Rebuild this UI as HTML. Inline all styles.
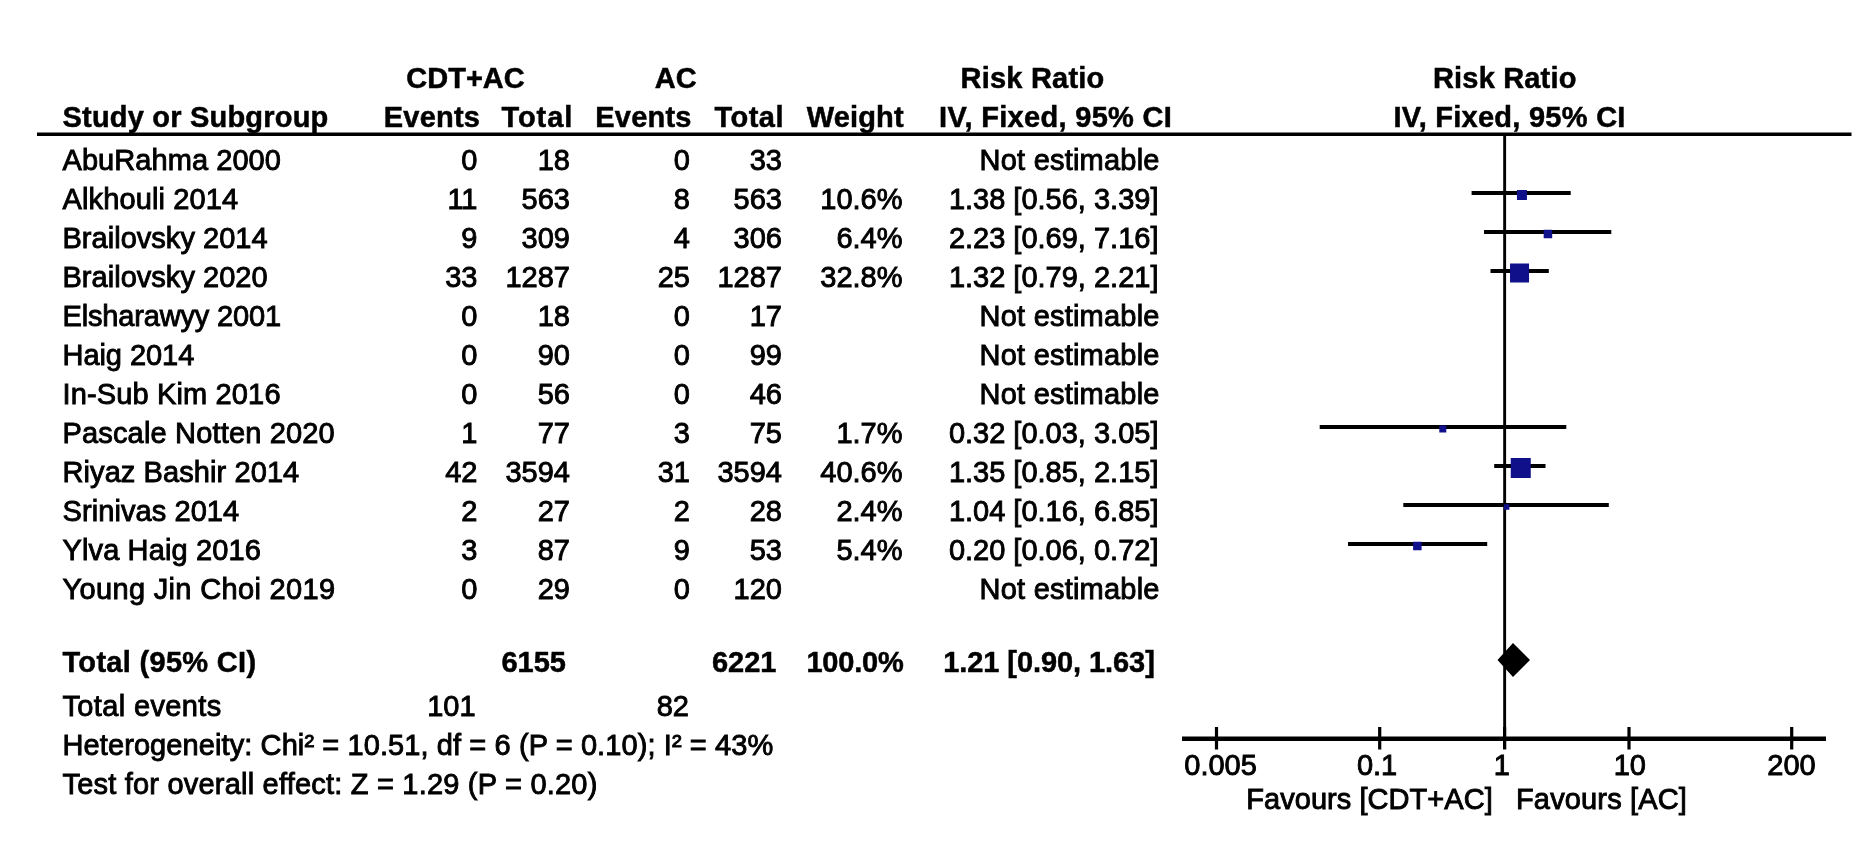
<!DOCTYPE html><html><head><meta charset="utf-8"><style>html,body{margin:0;padding:0;background:#fff;width:1870px;height:860px;overflow:hidden}svg{display:block;filter:blur(0.35px)}text{font-family:"Liberation Sans",sans-serif;font-size:29px;fill:#000;stroke:#000;stroke-width:0.9px}.b{font-weight:bold;stroke-width:0.5px}</style></head><body>
<svg width="1870" height="860" viewBox="0 0 1870 860">
<text id="t0" class="b" text-anchor="middle" textLength="118.42" lengthAdjust="spacing" x="465.50" y="88">CDT+AC</text>
<text id="t1" class="b" text-anchor="middle" x="675.70" y="88">AC</text>
<text id="t2" class="b" text-anchor="middle" textLength="143.63" lengthAdjust="spacing" x="1032.40" y="88">Risk Ratio</text>
<text id="t3" class="b" text-anchor="middle" textLength="143.43" lengthAdjust="spacing" x="1504.70" y="88">Risk Ratio</text>
<text id="t4" class="b" textLength="265.79" lengthAdjust="spacing" x="62.50" y="127">Study or Subgroup</text>
<text id="t5" class="b" text-anchor="end" textLength="96.31" lengthAdjust="spacing" x="480.00" y="127">Events</text>
<text id="t6" class="b" text-anchor="end" textLength="70.92" lengthAdjust="spacing" x="572.30" y="127">Total</text>
<text id="t7" class="b" text-anchor="end" textLength="96.31" lengthAdjust="spacing" x="691.50" y="127">Events</text>
<text id="t8" class="b" text-anchor="end" textLength="69.12" lengthAdjust="spacing" x="783.50" y="127">Total</text>
<text id="t9" class="b" text-anchor="end" textLength="96.73" lengthAdjust="spacing" x="903.60" y="127">Weight</text>
<text id="t10" class="b" text-anchor="middle" textLength="232.81" lengthAdjust="spacing" x="1055.50" y="127">IV, Fixed, 95% CI</text>
<text id="t11" class="b" text-anchor="middle" textLength="232.01" lengthAdjust="spacing" x="1509.40" y="127">IV, Fixed, 95% CI</text>
<text id="t12" textLength="218.46" lengthAdjust="spacing" x="62.50" y="170">AbuRahma 2000</text>
<text id="t13" text-anchor="end" x="477.50" y="170">0</text>
<text id="t14" text-anchor="end" x="570.00" y="170">18</text>
<text id="t15" text-anchor="end" x="690.00" y="170">0</text>
<text id="t16" text-anchor="end" x="782.00" y="170">33</text>
<text id="t17" text-anchor="end" textLength="179.91" lengthAdjust="spacing" x="1159.50" y="170">Not estimable</text>
<text id="t18" textLength="175.74" lengthAdjust="spacing" x="62.50" y="209">Alkhouli 2014</text>
<text id="t19" text-anchor="end" x="477.50" y="209">11</text>
<text id="t20" text-anchor="end" x="570.00" y="209">563</text>
<text id="t21" text-anchor="end" x="690.00" y="209">8</text>
<text id="t22" text-anchor="end" x="782.00" y="209">563</text>
<text id="t23" text-anchor="end" x="902.50" y="209">10.6%</text>
<text id="t24" text-anchor="end" x="1158.50" y="209">1.38 [0.56, 3.39]</text>
<text id="t25" textLength="205.12" lengthAdjust="spacing" x="62.50" y="248">Brailovsky 2014</text>
<text id="t26" text-anchor="end" x="477.50" y="248">9</text>
<text id="t27" text-anchor="end" x="570.00" y="248">309</text>
<text id="t28" text-anchor="end" x="690.00" y="248">4</text>
<text id="t29" text-anchor="end" x="782.00" y="248">306</text>
<text id="t30" text-anchor="end" x="902.50" y="248">6.4%</text>
<text id="t31" text-anchor="end" x="1158.50" y="248">2.23 [0.69, 7.16]</text>
<text id="t32" textLength="205.12" lengthAdjust="spacing" x="62.50" y="287">Brailovsky 2020</text>
<text id="t33" text-anchor="end" x="477.50" y="287">33</text>
<text id="t34" text-anchor="end" x="570.00" y="287">1287</text>
<text id="t35" text-anchor="end" x="690.00" y="287">25</text>
<text id="t36" text-anchor="end" x="782.00" y="287">1287</text>
<text id="t37" text-anchor="end" x="902.50" y="287">32.8%</text>
<text id="t38" text-anchor="end" x="1158.50" y="287">1.32 [0.79, 2.21]</text>
<text id="t39" textLength="218.64" lengthAdjust="spacing" x="62.50" y="326">Elsharawyy 2001</text>
<text id="t40" text-anchor="end" x="477.50" y="326">0</text>
<text id="t41" text-anchor="end" x="570.00" y="326">18</text>
<text id="t42" text-anchor="end" x="690.00" y="326">0</text>
<text id="t43" text-anchor="end" x="782.00" y="326">17</text>
<text id="t44" text-anchor="end" textLength="179.91" lengthAdjust="spacing" x="1159.50" y="326">Not estimable</text>
<text id="t45" textLength="131.82" lengthAdjust="spacing" x="62.50" y="365">Haig 2014</text>
<text id="t46" text-anchor="end" x="477.50" y="365">0</text>
<text id="t47" text-anchor="end" x="570.00" y="365">90</text>
<text id="t48" text-anchor="end" x="690.00" y="365">0</text>
<text id="t49" text-anchor="end" x="782.00" y="365">99</text>
<text id="t50" text-anchor="end" textLength="179.91" lengthAdjust="spacing" x="1159.50" y="365">Not estimable</text>
<text id="t51" textLength="218.02" lengthAdjust="spacing" x="62.50" y="404">In-Sub Kim 2016</text>
<text id="t52" text-anchor="end" x="477.50" y="404">0</text>
<text id="t53" text-anchor="end" x="570.00" y="404">56</text>
<text id="t54" text-anchor="end" x="690.00" y="404">0</text>
<text id="t55" text-anchor="end" x="782.00" y="404">46</text>
<text id="t56" text-anchor="end" textLength="179.91" lengthAdjust="spacing" x="1159.50" y="404">Not estimable</text>
<text id="t57" textLength="272.25" lengthAdjust="spacing" x="62.50" y="443">Pascale Notten 2020</text>
<text id="t58" text-anchor="end" x="477.50" y="443">1</text>
<text id="t59" text-anchor="end" x="570.00" y="443">77</text>
<text id="t60" text-anchor="end" x="690.00" y="443">3</text>
<text id="t61" text-anchor="end" x="782.00" y="443">75</text>
<text id="t62" text-anchor="end" x="902.50" y="443">1.7%</text>
<text id="t63" text-anchor="end" x="1158.50" y="443">0.32 [0.03, 3.05]</text>
<text id="t64" textLength="236.74" lengthAdjust="spacing" x="62.50" y="482">Riyaz Bashir 2014</text>
<text id="t65" text-anchor="end" x="477.50" y="482">42</text>
<text id="t66" text-anchor="end" x="570.00" y="482">3594</text>
<text id="t67" text-anchor="end" x="690.00" y="482">31</text>
<text id="t68" text-anchor="end" x="782.00" y="482">3594</text>
<text id="t69" text-anchor="end" x="902.50" y="482">40.6%</text>
<text id="t70" text-anchor="end" x="1158.50" y="482">1.35 [0.85, 2.15]</text>
<text id="t71" textLength="176.72" lengthAdjust="spacing" x="62.50" y="521">Srinivas 2014</text>
<text id="t72" text-anchor="end" x="477.50" y="521">2</text>
<text id="t73" text-anchor="end" x="570.00" y="521">27</text>
<text id="t74" text-anchor="end" x="690.00" y="521">2</text>
<text id="t75" text-anchor="end" x="782.00" y="521">28</text>
<text id="t76" text-anchor="end" x="902.50" y="521">2.4%</text>
<text id="t77" text-anchor="end" x="1158.50" y="521">1.04 [0.16, 6.85]</text>
<text id="t78" textLength="198.29" lengthAdjust="spacing" x="62.50" y="560">Ylva Haig 2016</text>
<text id="t79" text-anchor="end" x="477.50" y="560">3</text>
<text id="t80" text-anchor="end" x="570.00" y="560">87</text>
<text id="t81" text-anchor="end" x="690.00" y="560">9</text>
<text id="t82" text-anchor="end" x="782.00" y="560">53</text>
<text id="t83" text-anchor="end" x="902.50" y="560">5.4%</text>
<text id="t84" text-anchor="end" x="1158.50" y="560">0.20 [0.06, 0.72]</text>
<text id="t85" textLength="272.59" lengthAdjust="spacing" x="62.50" y="599">Young Jin Choi 2019</text>
<text id="t86" text-anchor="end" x="477.50" y="599">0</text>
<text id="t87" text-anchor="end" x="570.00" y="599">29</text>
<text id="t88" text-anchor="end" x="690.00" y="599">0</text>
<text id="t89" text-anchor="end" x="782.00" y="599">120</text>
<text id="t90" text-anchor="end" textLength="179.91" lengthAdjust="spacing" x="1159.50" y="599">Not estimable</text>
<text id="t91" class="b" textLength="193.59" lengthAdjust="spacing" x="62.50" y="672">Total (95% CI)</text>
<text id="t92" class="b" text-anchor="end" x="566.00" y="672">6155</text>
<text id="t93" class="b" text-anchor="end" x="776.40" y="672">6221</text>
<text id="t94" class="b" text-anchor="end" textLength="97.36" lengthAdjust="spacing" x="903.80" y="672">100.0%</text>
<text id="t95" class="b" text-anchor="end" textLength="211.63" lengthAdjust="spacing" x="1154.80" y="672">1.21 [0.90, 1.63]</text>
<text id="t96" textLength="158.77" lengthAdjust="spacing" x="62.50" y="716">Total events</text>
<text id="t97" text-anchor="end" x="475.60" y="716">101</text>
<text id="t98" text-anchor="end" x="689.00" y="716">82</text>
<text id="t99" textLength="710.75" lengthAdjust="spacing" x="62.50" y="755">Heterogeneity: Chi² = 10.51, df = 6 (P = 0.10); I² = 43%</text>
<text id="t100" textLength="534.85" lengthAdjust="spacing" x="62.50" y="794">Test for overall effect: Z = 1.29 (P = 0.20)</text>
<text id="t101" text-anchor="middle" textLength="72.58" lengthAdjust="spacing" x="1220.56" y="774.5">0.005</text>
<text id="t102" text-anchor="middle" x="1377.10" y="774.5">0.1</text>
<text id="t103" text-anchor="middle" x="1501.90" y="774.5">1</text>
<text id="t104" text-anchor="middle" x="1629.80" y="774.5">10</text>
<text id="t105" text-anchor="middle" x="1791.54" y="774.5">200</text>
<text id="t106" textLength="246.55" lengthAdjust="spacing" x="1246.20" y="809">Favours [CDT+AC]</text>
<text id="t107" textLength="170.82" lengthAdjust="spacing" x="1516.00" y="809">Favours [AC]</text>
<rect x="37" y="132.5" width="1814.5" height="3.5" fill="#000"/>
<rect x="1503.2" y="134" width="2.9" height="615" fill="#000"/>
<rect x="1471.6" y="191.0" width="99.1" height="4" fill="#000"/>
<rect x="1516.94" y="190.00" width="10" height="10" fill="#10108a"/>
<rect x="1484.0" y="230.0" width="127.3" height="4" fill="#000"/>
<rect x="1543.68" y="229.75" width="8.5" height="8.5" fill="#10108a"/>
<rect x="1490.5" y="269.0" width="58.3" height="4" fill="#000"/>
<rect x="1510.04" y="263.50" width="19" height="19" fill="#10108a"/>
<rect x="1319.7" y="425.0" width="246.6" height="4" fill="#000"/>
<rect x="1439.29" y="425.50" width="7" height="7" fill="#10108a"/>
<rect x="1494.2" y="464.0" width="51.3" height="4" fill="#000"/>
<rect x="1510.75" y="458.00" width="20" height="20" fill="#10108a"/>
<rect x="1403.3" y="503.0" width="205.5" height="4" fill="#000"/>
<rect x="1503.87" y="504.25" width="5.5" height="5.5" fill="#10108a"/>
<rect x="1348.0" y="542.0" width="139.2" height="4" fill="#000"/>
<rect x="1413.09" y="541.75" width="8.5" height="8.5" fill="#10108a"/>
<polygon points="1497.5,660 1513,643 1530,660 1513,677" fill="#000"/>
<rect x="1182" y="736.5" width="644" height="4.5" fill="#000"/>
<rect x="1214.9" y="727" width="3.2" height="22.5" fill="#000"/>
<rect x="1378.1" y="727" width="3.2" height="22.5" fill="#000"/>
<rect x="1503.0" y="727" width="3.2" height="22.5" fill="#000"/>
<rect x="1627.4" y="727" width="3.2" height="22.5" fill="#000"/>
<rect x="1790.1" y="727" width="3.2" height="22.5" fill="#000"/>
</svg></body></html>
